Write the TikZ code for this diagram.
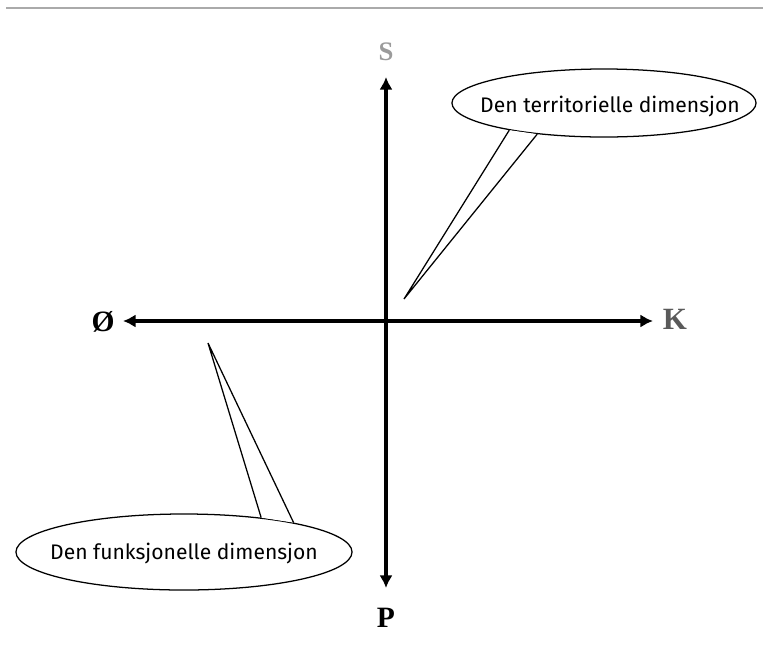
\documentclass[tikz,border=0pt]{standalone}
\usepackage{fontspec}
\setmainfont{Liberation Serif}
\newfontfamily\calloutfont{Fira Sans}
\usetikzlibrary{shapes.geometric, arrows.meta}
\definecolor{LabelGrey}{RGB}{155, 155, 155}
\definecolor{LabelDark}{RGB}{90, 90, 90}
\definecolor{FrameGrey}{RGB}{170, 170, 170}

\begin{document}
\begin{tikzpicture}[x=0.025cm, y=-0.025cm,
    axis/.style={line width=2.4pt, {Latex[length=9pt, width=9.5pt]}-{Latex[length=9pt, width=9.5pt]}},
    axislabel/.style={font=\fontsize{21}{21}\selectfont\bfseries, inner sep=0pt},
    bubble/.style={ellipse, draw, line width=0.9pt, inner sep=0pt},
    bubbletext/.style={font=\calloutfont\fontsize{15}{15}\selectfont, inner sep=0pt},
    pointer/.style={line width=0.9pt}]

    \useasboundingbox (0,0) rectangle (763,646);

    % Page edge
    \draw[FrameGrey, line width=1pt] (6,8) -- (763,8);

    % Axes
    \coordinate (north) at (386,77);
    \coordinate (south) at (386,588);
    \coordinate (west) at (123,321);
    \coordinate (east) at (653,321);
    \draw[axis] (west) -- (east);
    \draw[axis] (north) -- (south);

    % Axis labels
    \node[axislabel, LabelGrey, font=\fontsize{19}{19}\selectfont\bfseries] (s) at (386,52) {S};
    \node[axislabel] (p) at (386,618) {P};
    \node[axislabel] (oe) at (103,322) {Ø};
    \node[axislabel, LabelDark, font=\fontsize{22}{22}\selectfont\bfseries] (k) at (675,319) {K};

    % Territorial callout
    \node[bubble, minimum width=7.6cm, minimum height=1.7cm] (terr) at (604,103) {};
    \node[bubbletext] (terrtext) at (610,107) {Den territorielle dimensjon};
    \coordinate (terrtip) at (404,299);
    \fill[white] (terr.196) -- (terrtip) -- (terr.205) -- cycle;
    \draw[pointer] (terr.196) -- (terrtip) -- (terr.205);

    % Functional callout
    \node[bubble, minimum width=8.4cm, minimum height=1.9cm] (funk) at (184,552) {};
    \node[bubbletext] (funktext) at (184,553) {Den funksjonelle dimensjon};
    \coordinate (funktip) at (208,343);
    \fill[white] (funk.24) -- (funktip) -- (funk.15) -- cycle;
    \draw[pointer] (funk.24) -- (funktip) -- (funk.15);
\end{tikzpicture}
\end{document}
